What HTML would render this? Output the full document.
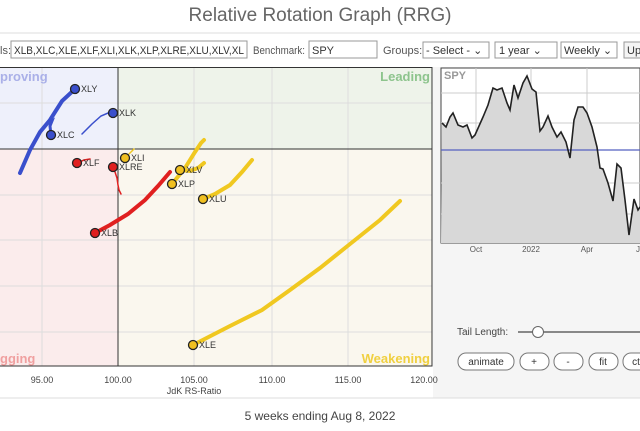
<!DOCTYPE html>
<html><head><meta charset="utf-8"><style>
body{margin:0;width:640px;height:426px;overflow:hidden;background:#fff;font-family:"Liberation Sans",sans-serif}
</style></head><body>
<svg width="640" height="426" xmlns="http://www.w3.org/2000/svg" font-family="Liberation Sans, sans-serif">
<rect x="0" y="0" width="640" height="426" fill="#fff"/>
<text x="320" y="21" text-anchor="middle" font-size="19" fill="#666">Relative Rotation Graph (RRG)</text>
<line x1="0" y1="33" x2="640" y2="33" stroke="#ddd"/>
<text x="0" y="54" font-size="11" fill="#555">ls:</text>
<rect x="11" y="41" width="236" height="17" fill="#fff" stroke="#999"/>
<text x="14" y="54" font-size="11" fill="#333" textLength="230" lengthAdjust="spacingAndGlyphs">XLB,XLC,XLE,XLF,XLI,XLK,XLP,XLRE,XLU,XLV,XL</text>
<text x="253" y="54" font-size="11" fill="#555" textLength="52" lengthAdjust="spacingAndGlyphs">Benchmark:</text>
<rect x="309" y="41" width="68" height="17" fill="#fff" stroke="#999"/>
<text x="312" y="54" font-size="11" fill="#333">SPY</text>
<text x="383" y="54" font-size="11" fill="#555">Groups:</text>
<rect x="423" y="42" width="66" height="16" fill="#fff" stroke="#999"/>
<text x="426" y="54" font-size="11" fill="#333">- Select -  ⌄</text>
<rect x="495" y="42" width="62" height="16" fill="#fff" stroke="#999"/>
<text x="499" y="54" font-size="11" fill="#333">1 year      ⌄</text>
<rect x="561" y="42" width="56" height="16" fill="#fff" stroke="#999"/>
<text x="564" y="54" font-size="11" fill="#333">Weekly ⌄</text>
<rect x="624" y="42" width="20" height="16" fill="#f4f4f4" stroke="#999"/>
<text x="627" y="54" font-size="11" fill="#333">Up</text>
<rect x="433" y="67" width="207" height="331" fill="#f5f5f5"/>
<rect x="0" y="68" width="118" height="81" fill="#eef0fb"/>
<rect x="118" y="68" width="314" height="81" fill="#eef3ea"/>
<rect x="0" y="149" width="118" height="217" fill="#fbecec"/>
<rect x="118" y="149" width="314" height="217" fill="#faf7ee"/>
<g stroke="#ddd" stroke-width="1">
<line x1="42" y1="68" x2="42" y2="366"/><line x1="194" y1="68" x2="194" y2="366"/>
<line x1="272" y1="68" x2="272" y2="366"/><line x1="348" y1="68" x2="348" y2="366"/>
<line x1="0" y1="103" x2="432" y2="103"/><line x1="0" y1="195" x2="432" y2="195"/>
<line x1="0" y1="240" x2="432" y2="240"/><line x1="0" y1="286" x2="432" y2="286"/>
<line x1="0" y1="332" x2="432" y2="332"/>
</g>
<line x1="118" y1="68" x2="118" y2="366" stroke="#333"/>
<line x1="0" y1="149" x2="432" y2="149" stroke="#333"/>
<rect x="-1" y="67.5" width="433" height="298.5" fill="none" stroke="#333"/>
<text x="0" y="81" font-size="13" font-weight="bold" fill="#aab0e8">proving</text>
<text x="430" y="81" font-size="13" font-weight="bold" fill="#8dc48d" text-anchor="end">Leading</text>
<text x="0" y="363" font-size="13" font-weight="bold" fill="#f0a0a0">gging</text>
<text x="430" y="363" font-size="13" font-weight="bold" fill="#f0d040" text-anchor="end">Weakening</text>
<g fill="none" stroke-linecap="round">
<polyline points="20,173 30,150 40,132 50,120 62,101 75,89" stroke="#3a4fcc" stroke-width="4"/>
<polyline points="51,135 50,126 52,121 47,124" stroke="#3a4fcc" stroke-width="3"/>
<polyline points="82,134 86,130 92,124 101,116 108,113 113,113" stroke="#3a4fcc" stroke-width="1.5"/>
<polyline points="77,163 84,160 90,159" stroke="#e02020" stroke-width="1.5"/>
<polyline points="113,167 115,172 117,178 118,185 119,190 121,194" stroke="#e02020" stroke-width="1.5"/>
<polyline points="95,233 110,225 128,214 145,200 158,186 170,172" stroke="#e02020" stroke-width="4"/>
<polyline points="125,158 130,153 134,149" stroke="#f0c820" stroke-width="1.5"/>
<polyline points="172,184 185,168 195,152 201,143 204,140" stroke="#f0c820" stroke-width="4"/>
<polyline points="180,170 190,171 198,168 204,163" stroke="#f0c820" stroke-width="4"/>
<polyline points="203,199 215,194 230,185 242,172 252,160" stroke="#f0c820" stroke-width="4"/>
<polyline points="193,345 230,326 262,310 290,290 320,268 350,244 380,220 400,201" stroke="#f0c820" stroke-width="4"/>
</g>
<g stroke="#222" stroke-width="1.3">
<circle cx="75" cy="89" r="4.5" fill="#3a4fcc"/><circle cx="51" cy="135" r="4.5" fill="#3a4fcc"/>
<circle cx="113" cy="113" r="4.5" fill="#3a4fcc"/><circle cx="77" cy="163" r="4.5" fill="#e02020"/>
<circle cx="113" cy="167" r="4.5" fill="#e02020"/><circle cx="95" cy="233" r="4.5" fill="#e02020"/>
<circle cx="125" cy="158" r="4.5" fill="#f0c020"/><circle cx="180" cy="170" r="4.5" fill="#f0c020"/>
<circle cx="172" cy="184" r="4.5" fill="#f0c020"/><circle cx="203" cy="199" r="4.5" fill="#f0c020"/>
<circle cx="193" cy="345" r="4.5" fill="#f0c020"/>
</g>
<g font-size="9" fill="#333">
<text x="81" y="92">XLY</text><text x="57" y="138">XLC</text><text x="119" y="116">XLK</text>
<text x="83" y="166">XLF</text><text x="119" y="170">XLRE</text><text x="101" y="236">XLB</text>
<text x="131" y="161">XLI</text><text x="186" y="173">XLV</text><text x="178" y="187">XLP</text>
<text x="209" y="202">XLU</text><text x="199" y="348">XLE</text>
</g>
<g font-size="9" fill="#444" text-anchor="middle">
<text x="42" y="383">95.00</text><text x="118" y="383">100.00</text><text x="194" y="383">105.00</text>
<text x="272" y="383">110.00</text><text x="348" y="383">115.00</text><text x="424" y="383">120.00</text>
<text x="194" y="394">JdK RS-Ratio</text>
</g>
<line x1="0" y1="398" x2="640" y2="398" stroke="#ddd"/>
<text x="320" y="420" text-anchor="middle" font-size="12" fill="#444">5 weeks ending Aug 8, 2022</text>
<rect x="441" y="68" width="199" height="175" fill="#fff" stroke="#444"/>
<g stroke="#ccc"><line x1="476" y1="68" x2="476" y2="243"/><line x1="531" y1="68" x2="531" y2="243"/><line x1="587" y1="68" x2="587" y2="243"/>
<line x1="441" y1="93" x2="640" y2="93"/><line x1="441" y1="123" x2="640" y2="123"/><line x1="441" y1="183" x2="640" y2="183"/><line x1="441" y1="214" x2="640" y2="214"/></g>
<polygon fill="#d8d8d8" points="441,243 442,123 446,127 450,117 453,113 458,125 463,127 467,125 472,138 475,135 483,117 488,105 493,88 497,90 502,88 507,103 510,110 514,85 518,98 523,83 527,76 532,89 536,92 540,131 543,127 548,116 552,127 557,137 561,132 566,142 570,158 574,120 578,107 583,107 587,113 592,127 597,147 600,168 603,169 608,183 613,201 617,164 621,168 625,200 629,235 634,199 638,210 640,207 640,243"/>
<line x1="441" y1="150" x2="640" y2="150" stroke="#5560c0" stroke-width="1.2"/>
<polyline fill="none" stroke="#222" stroke-width="1.6" points="442,123 446,127 450,117 453,113 458,125 463,127 467,125 472,138 475,135 483,117 488,105 493,88 497,90 502,88 507,103 510,110 514,85 518,98 523,83 527,76 532,89 536,92 540,131 543,127 548,116 552,127 557,137 561,132 566,142 570,158 574,120 578,107 583,107 587,113 592,127 597,147 600,168 603,169 608,183 613,201 617,164 621,168 625,200 629,235 634,199 638,210 640,207"/>
<text x="444" y="79" font-size="11" font-weight="bold" fill="#999">SPY</text>
<g font-size="8" fill="#555" text-anchor="middle"><text x="476" y="252">Oct</text><text x="531" y="252">2022</text><text x="587" y="252">Apr</text><text x="638" y="252">J</text></g>
<text x="457" y="335" font-size="10" fill="#444">Tail Length:</text>
<line x1="518" y1="332" x2="640" y2="332" stroke="#888" stroke-width="2"/>
<circle cx="538" cy="332" r="5.5" fill="#fff" stroke="#666"/>
<g font-size="10" fill="#333" text-anchor="middle">
<rect x="458" y="353" width="56" height="17" rx="8" fill="#fff" stroke="#777"/><text x="486" y="365">animate</text>
<rect x="520" y="353" width="29" height="17" rx="8" fill="#fff" stroke="#777"/><text x="534" y="365">+</text>
<rect x="554" y="353" width="29" height="17" rx="8" fill="#fff" stroke="#777"/><text x="568" y="365">-</text>
<rect x="589" y="353" width="29" height="17" rx="8" fill="#fff" stroke="#777"/><text x="603" y="365">fit</text>
<rect x="623" y="353" width="30" height="17" rx="8" fill="#fff" stroke="#777"/><text x="636" y="365">ct</text>
</g>
</svg>
</body></html>
